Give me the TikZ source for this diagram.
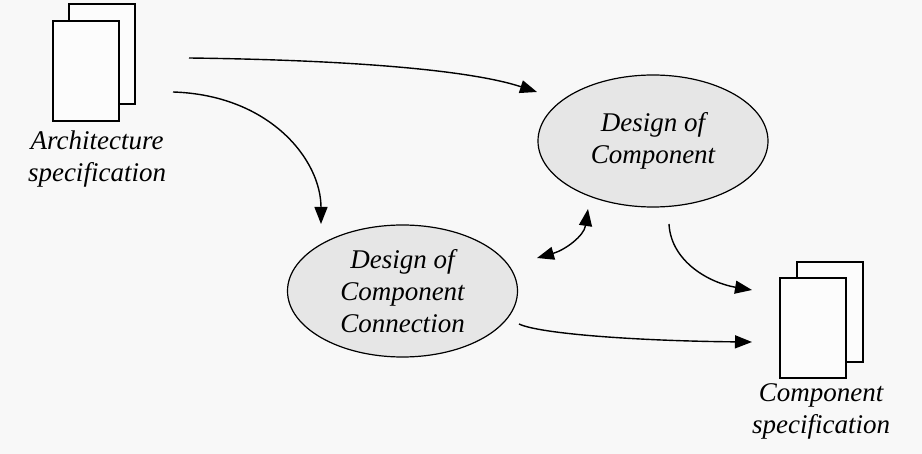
\documentclass[tikz,border=0pt]{standalone}
\usepackage{fontspec}
\setmainfont{Liberation Serif}
\usetikzlibrary{arrows.meta,shapes.geometric}
\definecolor{bgc}{HTML}{F8F8F8}
\definecolor{ellc}{HTML}{E6E6E6}
\definecolor{pagec}{HTML}{FCFCFC}
\tikzset{
  lbl/.style={font=\fontsize{27}{32}\selectfont\itshape, align=center, inner sep=0pt},
  proc/.style={ellipse, draw, line width=1.2pt, fill=ellc, minimum width=230pt, minimum height=132pt, inner sep=0pt, lbl},
  page/.style={draw, line width=1.3pt, fill=pagec, minimum width=66pt, minimum height=100pt, inner sep=0pt},
  tip/.style={Triangle[length=17pt,width=13pt]},
  flow/.style={line width=1.4pt, -{Triangle[length=17pt,width=13pt]}},
  bflow/.style={line width=1.4pt, {Triangle[length=17pt,width=13pt]}-{Triangle[length=17pt,width=13pt]}}
}
\begin{document}
\begin{tikzpicture}[x=1pt,y=-1pt]
\useasboundingbox[fill=bgc] (0,0) rectangle (922,454);
% architecture spec document
\node[page] (archB) at (102,54) {};
\node[page] (archF) at (86,71) {};
\node[lbl] (archL) at (97,159) {Architecture\\specification};
% component spec document
\node[page] (compB) at (830,312) {};
\node[page] (compF) at (813,328) {};
\node[lbl] (compL) at (821,411) {Component\\specification};
% processes
\node[proc] (dc) at (653,141) {Design of\\Component};
\node[proc] (dcc) at (402.5,291) {Design of\\Component\\Connection};
% connector endpoints
\coordinate (a1s) at (189,58);
\coordinate (a1e) at (537,92);
\coordinate (a2s) at (173,92);
\coordinate (a2e) at (321,224);
\coordinate (a3s) at (537,258);
\coordinate (a3e) at (588,209);
\coordinate (a4s) at (669,224);
\coordinate (a4e) at (752,290);
\coordinate (a5s) at (519,324);
\coordinate (a5e) at (752,342);
\draw[flow] (a1s) .. controls (350,60) and (470,70) .. (a1e);
\draw[flow] (a2s) .. controls (270,95) and (321,160) .. (a2e);
\draw[bflow] (a3s) .. controls (565,250) and (584,236) .. (a3e);
\draw[flow] (a4s) .. controls (671,262) and (710,283) .. (a4e);
\draw[flow] (a5s) .. controls (540,334) and (640,341) .. (a5e);
\end{tikzpicture}
\end{document}
